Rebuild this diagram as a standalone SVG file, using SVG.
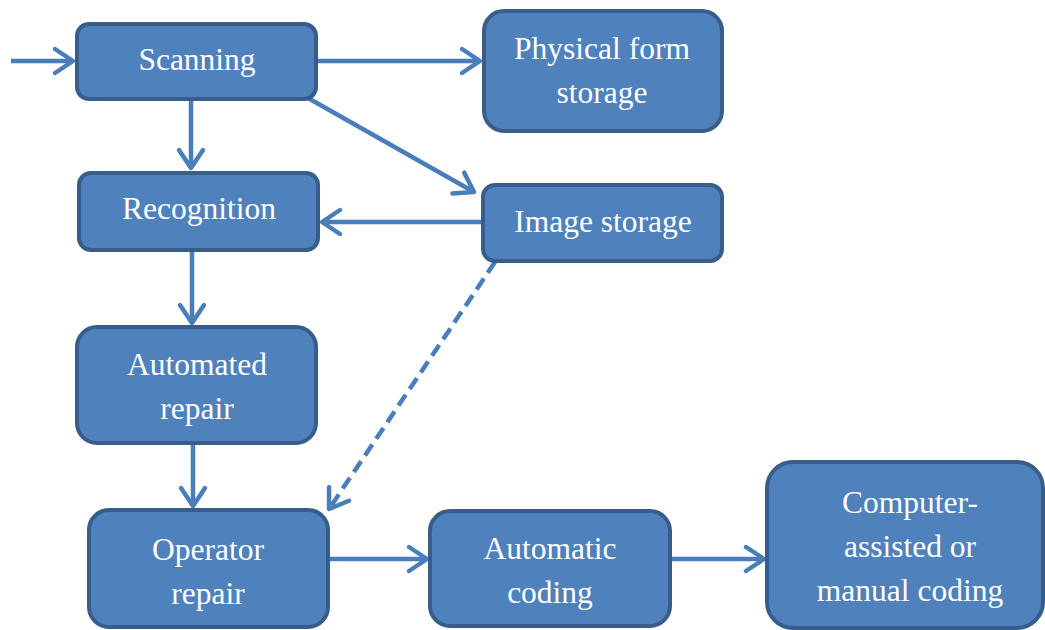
<svg xmlns="http://www.w3.org/2000/svg" width="1045" height="630" viewBox="0 0 1045 630">
<defs>
<style>
.box{fill:#4F81BD;stroke:#385D8A;stroke-width:4}
.lbl{font-family:'Liberation Serif','DejaVu Serif',serif;font-size:31.5px;fill:#FFFFFF;text-anchor:middle}
.conn{fill:none;stroke:#4A7EBB;stroke-width:4.5}
.dash{stroke-dasharray:13 7}
</style>
<marker id="ah" markerUnits="userSpaceOnUse" viewBox="-22 -16 26 32" markerWidth="26" markerHeight="32" refX="0" refY="0" orient="auto" overflow="visible">
<path d="M-18,-12 L0,0 L-18,12" fill="none" stroke="#4A7EBB" stroke-width="4.5" stroke-linecap="round" stroke-linejoin="round"/>
</marker>
</defs>
<rect width="1045" height="630" fill="#FFFFFF"/>
<g id="connectors">
<line class="conn" x1="11" y1="61" x2="73" y2="61" marker-end="url(#ah)"/>
<line class="conn" x1="318" y1="61" x2="480" y2="61" marker-end="url(#ah)"/>
<line class="conn" x1="191" y1="100" x2="191" y2="168" marker-end="url(#ah)"/>
<line class="conn" x1="308" y1="98" x2="474" y2="192" marker-end="url(#ah)"/>
<line class="conn" x1="482" y1="222" x2="322" y2="222" marker-end="url(#ah)"/>
<line class="conn" x1="192" y1="251" x2="192" y2="323" marker-end="url(#ah)"/>
<line class="conn" x1="193" y1="444" x2="193" y2="506" marker-end="url(#ah)"/>
<line class="conn dash" x1="495" y1="262" x2="329" y2="509" marker-end="url(#ah)"/>
<line class="conn" x1="328" y1="559" x2="427" y2="559" marker-end="url(#ah)"/>
<line class="conn" x1="671" y1="559" x2="764" y2="559" marker-end="url(#ah)"/>
</g>
<g id="scanning">
<rect class="box" x="77" y="24" width="239" height="75" rx="12"/>
<text class="lbl" x="197" y="70" font-family="Liberation Serif">Scanning</text>
</g>
<g id="physical-form-storage">
<rect class="box" x="484" y="11" width="238" height="120" rx="20"/>
<text class="lbl" x="602" y="59">Physical form</text>
<text class="lbl" x="602" y="103">storage</text>
</g>
<g id="recognition">
<rect class="box" x="79" y="173" width="239" height="77" rx="12"/>
<text class="lbl" x="199" y="219">Recognition</text>
</g>
<g id="image-storage">
<rect class="box" x="483" y="185" width="239" height="76" rx="12"/>
<text class="lbl" x="603" y="232">Image storage</text>
</g>
<g id="automated-repair">
<rect class="box" x="77" y="327" width="239" height="116" rx="20"/>
<text class="lbl" x="197" y="375">Automated</text>
<text class="lbl" x="197" y="419">repair</text>
</g>
<g id="operator-repair">
<rect class="box" x="89" y="510" width="239" height="117" rx="20"/>
<text class="lbl" x="208" y="560">Operator</text>
<text class="lbl" x="208" y="604">repair</text>
</g>
<g id="automatic-coding">
<rect class="box" x="430" y="511" width="240" height="115" rx="20"/>
<text class="lbl" x="550" y="559">Automatic</text>
<text class="lbl" x="550" y="603">coding</text>
</g>
<g id="computer-assisted">
<rect class="box" x="767" y="462" width="276" height="166" rx="26"/>
<text class="lbl" x="910" y="513">Computer-</text>
<text class="lbl" x="910" y="557">assisted or</text>
<text class="lbl" x="910" y="601">manual coding</text>
</g>
</svg>
